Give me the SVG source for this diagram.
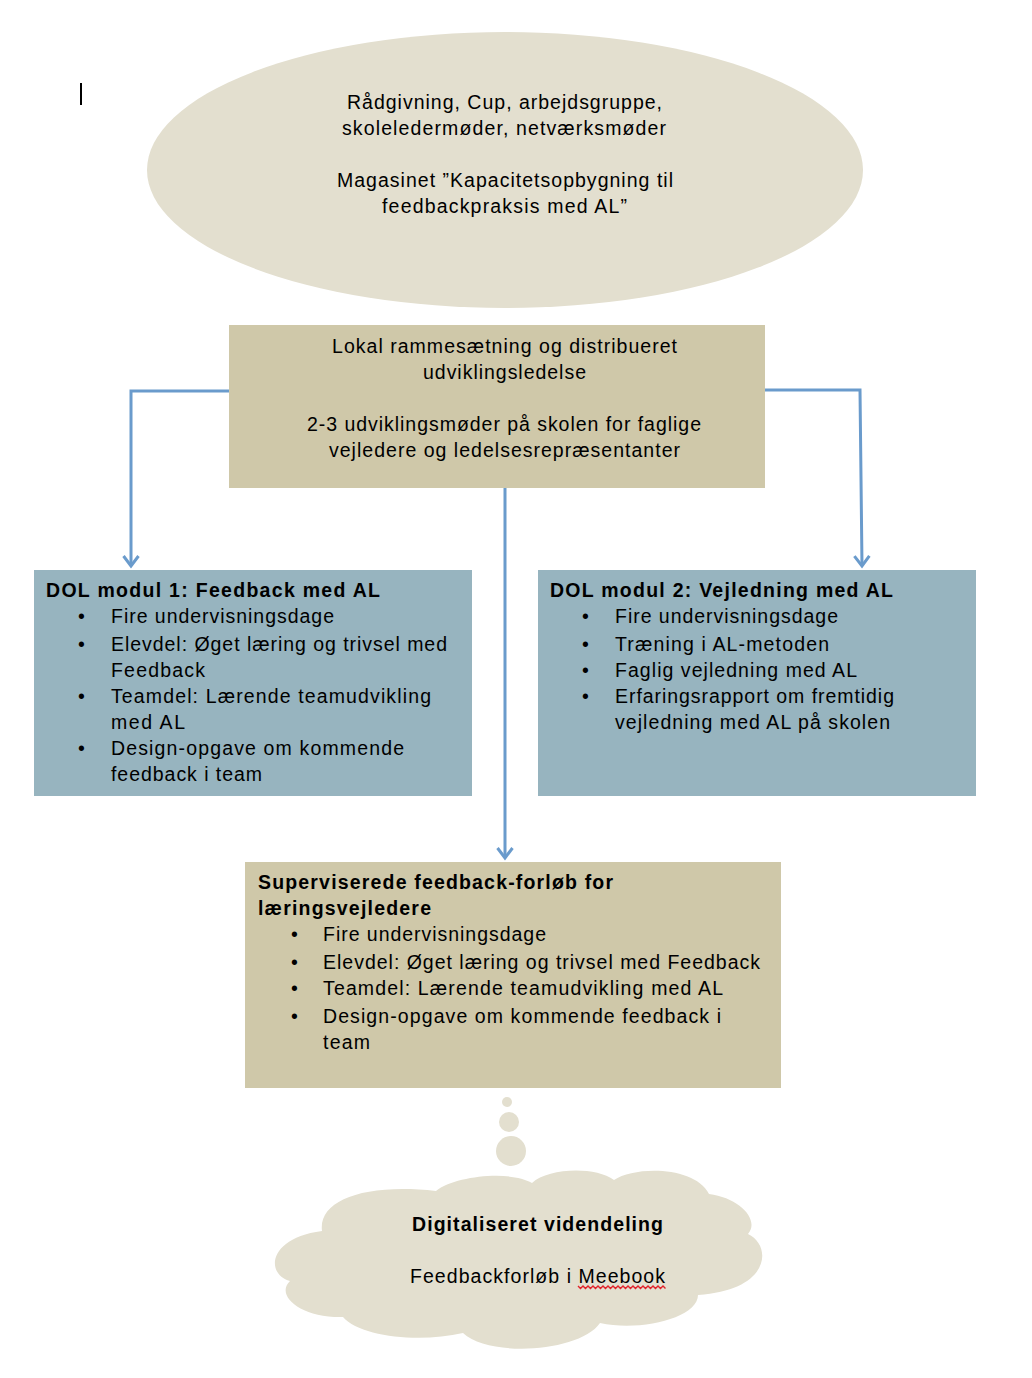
<svg xmlns="http://www.w3.org/2000/svg" width="1032" height="1378" viewBox="0 0 1032 1378">
<style>
  text { font-family: "Liberation Sans", Arial, sans-serif; font-size: 19.5px; fill: #000; }
  .c { text-anchor: middle; }
  .b { font-weight: bold; }
  .conn { fill: none; stroke: #6a9bcc; stroke-width: 3; }
</style>
<defs>
  <marker id="arr" markerUnits="userSpaceOnUse" markerWidth="24" markerHeight="24" viewBox="-12 -12 24 24" refX="0" refY="0" orient="auto">
    <path d="M -10 -7.5 L 0 0 L -10 7.5" fill="none" stroke="#6a9bcc" stroke-width="3"/>
  </marker>
</defs>
<rect width="1032" height="1378" fill="#ffffff"/>
<line x1="81" y1="83" x2="81" y2="105" stroke="#000" stroke-width="2"/>

<g id="connectors">
  <path class="conn" d="M 229 391 L 131 391 L 131 566" marker-end="url(#arr)"/>
  <path class="conn" d="M 765 390 L 860 390 L 862 566" marker-end="url(#arr)"/>
  <path class="conn" d="M 505 488 L 505 858" marker-end="url(#arr)"/>
</g>

<g id="top-ellipse">
  <ellipse cx="505" cy="170" rx="358" ry="138" fill="#e3dfcf"/>
  <text class="c" x="504.5" y="109" textLength="315">Rådgivning, Cup, arbejdsgruppe,</text>
  <text class="c" x="504" y="135" textLength="324">skoleledermøder, netværksmøder</text>
  <text class="c" x="505" y="187" textLength="336">Magasinet ”Kapacitetsopbygning til</text>
  <text class="c" x="504.5" y="213" textLength="245">feedbackpraksis med AL”</text>
</g>

<g id="lokal">
  <rect x="229" y="325" width="536" height="163" fill="#cfc8a9"/>
  <text class="c" x="504.5" y="353" textLength="345">Lokal rammesætning og distribueret</text>
  <text class="c" x="504.5" y="379" textLength="163">udviklingsledelse</text>
  <text class="c" x="504" y="431" textLength="394">2-3 udviklingsmøder på skolen for faglige</text>
  <text class="c" x="504.5" y="457" textLength="351">vejledere og ledelsesrepræsentanter</text>
</g>

<g id="modul1">
  <rect x="34" y="570" width="438" height="226" fill="#97b4bf"/>
  <text class="b" x="46" y="597" textLength="334">DOL modul 1: Feedback med AL</text>
  <text x="78" y="623">•</text>
  <text x="111" y="623" textLength="223">Fire undervisningsdage</text>
  <text x="78" y="651">•</text>
  <text x="111" y="651" textLength="336">Elevdel: Øget læring og trivsel med</text>
  <text x="111" y="677" textLength="94">Feedback</text>
  <text x="78" y="703">•</text>
  <text x="111" y="703" textLength="320">Teamdel: Lærende teamudvikling</text>
  <text x="111" y="729" textLength="74">med AL</text>
  <text x="78" y="755">•</text>
  <text x="111" y="755" textLength="293">Design-opgave om kommende</text>
  <text x="111" y="781" textLength="151">feedback i team</text>
</g>

<g id="modul2">
  <rect x="538" y="570" width="438" height="226" fill="#97b4bf"/>
  <text class="b" x="550" y="597" textLength="343">DOL modul 2: Vejledning med AL</text>
  <text x="582" y="623">•</text>
  <text x="615" y="623" textLength="223">Fire undervisningsdage</text>
  <text x="582" y="651">•</text>
  <text x="615" y="651" textLength="214">Træning i AL-metoden</text>
  <text x="582" y="677">•</text>
  <text x="615" y="677" textLength="242">Faglig vejledning med AL</text>
  <text x="582" y="703">•</text>
  <text x="615" y="703" textLength="279">Erfaringsrapport om fremtidig</text>
  <text x="615" y="729" textLength="275">vejledning med AL på skolen</text>
</g>

<g id="superviserede">
  <rect x="245" y="862" width="536" height="226" fill="#cfc8a9"/>
  <text class="b" x="258" y="889" textLength="355">Superviserede feedback-forløb for</text>
  <text class="b" x="258" y="915" textLength="173">læringsvejledere</text>
  <text x="291" y="941">•</text>
  <text x="323" y="941" textLength="223">Fire undervisningsdage</text>
  <text x="291" y="969">•</text>
  <text x="323" y="969" textLength="437">Elevdel: Øget læring og trivsel med Feedback</text>
  <text x="291" y="995">•</text>
  <text x="323" y="995" textLength="400">Teamdel: Lærende teamudvikling med AL</text>
  <text x="291" y="1023">•</text>
  <text x="323" y="1023" textLength="398">Design-opgave om kommende feedback i</text>
  <text x="323" y="1049" textLength="47">team</text>
</g>

<g id="thought-bubbles" fill="#e3dfcf">
  <circle cx="507" cy="1102" r="5"/>
  <circle cx="509" cy="1122" r="10"/>
  <circle cx="511" cy="1151" r="15"/>
</g>

<g id="cloud">
  <path fill="#e3dfcf" d="M 290 1281 C 265 1274, 268 1238, 322 1231 C 318 1200, 365 1183, 436 1191 C 455 1176, 510 1170, 532 1183 C 548 1168, 595 1166, 614 1180 C 635 1166, 695 1166, 709 1194 C 740 1198, 760 1220, 748 1234 C 772 1245, 772 1290, 698 1295 C 698 1318, 640 1332, 600 1323 C 580 1352, 490 1358, 463 1333 C 420 1343, 360 1337, 343 1317 C 300 1318, 275 1295, 290 1281 Z"/>
  <text class="c b" x="537.5" y="1231" textLength="251">Digitaliseret videndeling</text>
  <text class="c" x="537.5" y="1283" textLength="255">Feedbackforløb i Meebook</text>
  <path d="M 578 1286 l 2.5 2.5 l 2.5 -2.5 l 2.5 2.5 l 2.5 -2.5 l 2.5 2.5 l 2.5 -2.5 l 2.5 2.5 l 2.5 -2.5 l 2.5 2.5 l 2.5 -2.5 l 2.5 2.5 l 2.5 -2.5 l 2.5 2.5 l 2.5 -2.5 l 2.5 2.5 l 2.5 -2.5 l 2.5 2.5 l 2.5 -2.5 l 2.5 2.5 l 2.5 -2.5 l 2.5 2.5 l 2.5 -2.5 l 2.5 2.5 l 2.5 -2.5 l 2.5 2.5 l 2.5 -2.5 l 2.5 2.5 l 2.5 -2.5 l 2.5 2.5 l 2.5 -2.5 l 2.5 2.5 l 2.5 -2.5 l 2.5 2.5 l 2.5 -2.5 l 2.5 2.5" fill="none" stroke="#e0222a" stroke-width="1.4"/>
</g>
</svg>
